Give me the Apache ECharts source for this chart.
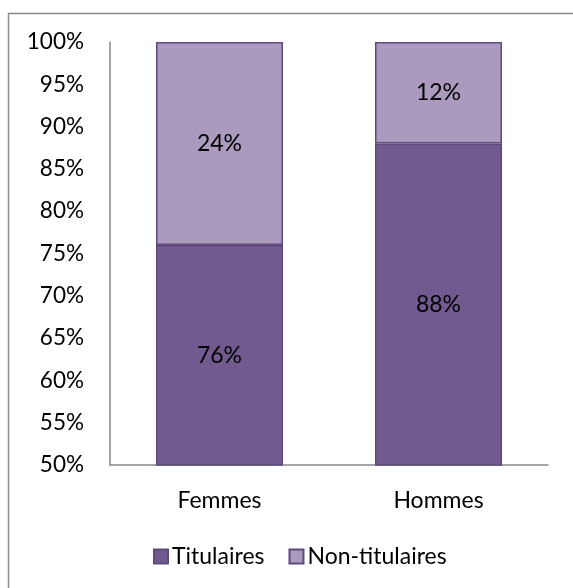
<!DOCTYPE html>
<html><head><meta charset="utf-8">
<script src="https://cdn.jsdelivr.net/npm/echarts@6/dist/echarts.min.js"></script>
<style>html,body{margin:0;padding:0;background:#fff}#c{width:573px;height:588px}</style>
</head><body><div id="c"></div>
<script>
const categories = ['Femmes', 'Hommes'];
const titulaires = [76, 88];
const nonTitulaires = [24, 12];
const seriesNames = ['Titulaires', 'Non-titulaires'];
const yMin = 50, yMax = 100, yStep = 5;

const font = 'Lato, "Open Sans", sans-serif';
const fs = 23;
const chart = echarts.init(document.getElementById('c'));
const lbl = { show: true, position: 'inside', color: '#000', fontSize: fs, fontFamily: font, formatter: p => p.value + '%' };
chart.setOption({
  animation: false,
  graphic: [{ type: 'rect', shape: { x: 8.5, y: 13.5, width: 600, height: 600 }, style: { fill: 'none', stroke: '#8c8c8c', lineWidth: 1.5 } }],
  grid: { left: 110, right: 25, top: 42, bottom: 123 },
  legend: {
    top: 540, left: 148, itemWidth: 14, itemHeight: 14, itemGap: 24,
    textStyle: { fontSize: fs, fontFamily: font, color: '#000', padding: [0, 0, 0, -1] },
    data: seriesNames.map(n => ({ name: n, icon: 'rect' }))
  },
  xAxis: {
    type: 'category', data: categories,
    axisLine: { lineStyle: { color: '#888', width: 1.5 } }, axisTick: { show: false },
    axisLabel: { fontSize: fs, fontFamily: font, color: '#000', margin: 24 }
  },
  yAxis: {
    type: 'value', min: yMin, max: yMax, interval: yStep,
    axisLine: { show: true, lineStyle: { color: '#888', width: 1.5 } }, axisTick: { show: false },
    splitLine: { show: false },
    axisLabel: { fontSize: 22.5, fontFamily: font, color: '#000', margin: 26, formatter: v => v + '%' }
  },
  series: [
    { name: seriesNames[0], type: 'bar', stack: 's', data: titulaires, barCategoryGap: '42%',
      itemStyle: { color: '#705A8F', borderColor: '#5E4A7C', borderWidth: 1.5 }, label: lbl },
    { name: seriesNames[1], type: 'bar', stack: 's', data: nonTitulaires,
      itemStyle: { color: '#A99ABE', borderColor: '#5E4A7C', borderWidth: 1.5 }, label: lbl }
  ]
});
</script></body></html>
